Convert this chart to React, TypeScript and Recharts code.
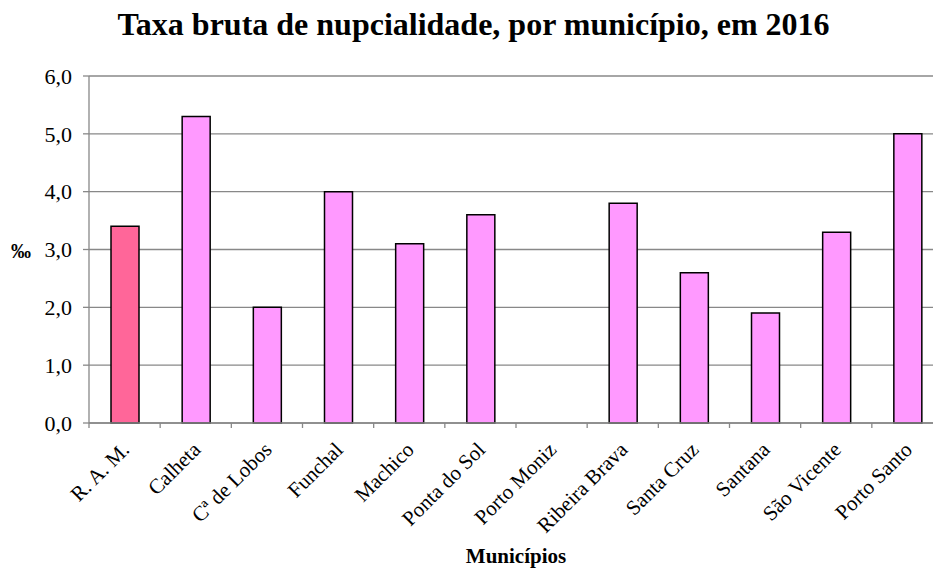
import { Bar, BarChart, CartesianGrid, Cell, XAxis, YAxis } from 'recharts'

const municipios = [
	'R. A. M.',
	'Calheta',
	'Cª de Lobos',
	'Funchal',
	'Machico',
	'Ponta do Sol',
	'Porto Moniz',
	'Ribeira Brava',
	'Santa Cruz',
	'Santana',
	'São Vicente',
	'Porto Santo',
]

const taxas: (number | null)[] = [3.4, 5.3, 2.0, 4.0, 3.1, 3.6, null, 3.8, 2.6, 1.9, 3.3, 5.0]

const yTicks = [0, 1, 2, 3, 4, 5, 6]

const data = municipios.map((name, i) => ({ name, taxa: taxas[i] }))

const serif = '"Liberation Serif", "Times New Roman", serif'

const CategoryTick = (props: any) => {
	const { x, y, payload } = props
	const half = payload && payload.offset ? payload.offset : 0
	return (
		<g>
			<line x1={x - half} y1={y - 5} x2={x - half} y2={y} stroke='#888' strokeWidth={1.3} />
			<text
				transform={`translate(${x + 6}, ${y + 23}) rotate(-45)`}
				textAnchor='end'
				fontFamily={serif}
				fontSize={21}
				fill='#000'
			>
				{payload.value}
			</text>
		</g>
	)
}

const ValueTick = (props: any) => {
	const { x, y, payload } = props
	return (
		<text x={x} y={y} textAnchor='end' dy='0.355em' fontFamily={serif} fontSize={22} fill='#000'>
			{payload.value.toFixed(1).replace('.', ',')}
		</text>
	)
}

const UnitLabel = (props: any) => {
	const vb = props.viewBox || { x: 0, y: 76, width: 89, height: 347 }
	const cy = vb.y + vb.height / 2
	return (
		<text x={11} y={cy + 8} textAnchor='start' fontFamily={serif} fontWeight='bold' fontSize={20} fill='#000'>
			‰
		</text>
	)
}

const AxisTitle = (props: any) => {
	const vb = props.viewBox || { x: 89, y: 423, width: 854, height: 145 }
	return (
		<text
			x={vb.x + vb.width / 2}
			y={vb.y + vb.height - 5}
			textAnchor='middle'
			fontFamily={serif}
			fontWeight='bold'
			fontSize={21}
			fill='#000'
		>
			Municípios
		</text>
	)
}

const App = () => {
	return (
		<div
			style={{
				position: 'fixed',
				left: 0,
				top: 0,
				width: 933,
				height: 568,
				overflow: 'hidden',
				background: '#fff',
			}}
		>
			<div
				style={{
					position: 'absolute',
					left: 0,
					top: 9,
					width: 947,
					textAlign: 'center',
					fontFamily: serif,
					fontWeight: 'bold',
					fontSize: 32,
					lineHeight: '31px',
					color: '#000',
				}}
			>
				Taxa bruta de nupcialidade, por município, em 2016
			</div>
			<BarChart
				width={960}
				height={568}
				data={data}
				margin={{ top: 76, right: 17, left: 0, bottom: 0 }}
				barSize={28}
			>
				<CartesianGrid vertical={false} stroke='#888' strokeWidth={1.3} />
				<XAxis
					dataKey='name'
					height={145}
					interval={0}
					tickLine={false}
					tickSize={5}
					tickMargin={0}
					axisLine={{ stroke: '#888', strokeWidth: 1.3 }}
					tick={<CategoryTick />}
					label={{ content: (p: any) => <AxisTitle {...p} /> }}
				/>
				<YAxis
					width={89}
					domain={[0, 6]}
					ticks={yTicks}
					interval={0}
					tickSize={6}
					tickMargin={11}
					tick={<ValueTick />}
					tickLine={{ stroke: '#888', strokeWidth: 1.3 }}
					axisLine={{ stroke: '#888', strokeWidth: 1.3 }}
					label={{ content: (p: any) => <UnitLabel {...p} /> }}
				/>
				<Bar dataKey='taxa' stroke='#000' strokeWidth={1.5} isAnimationActive={false}>
					{data.map((d, i) => (
						<Cell key={d.name} fill={i === 0 ? '#FF6699' : '#FF99FF'} />
					))}
				</Bar>
			</BarChart>
		</div>
	)
}

export default App
